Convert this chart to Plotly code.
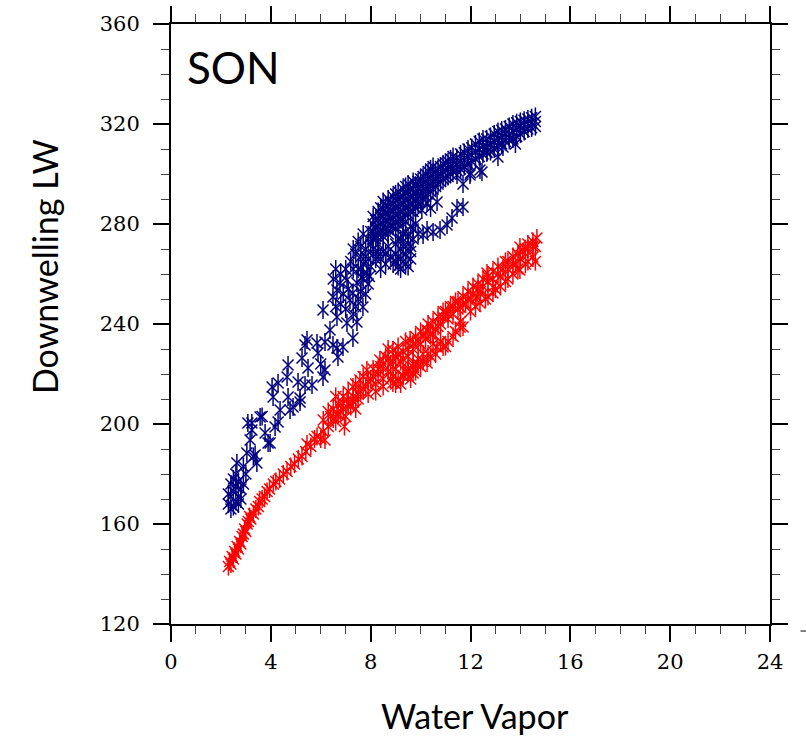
import plotly.graph_objects as go

# Column water vapour vs. downwelling longwave, SON season
# Blue series (navy) -- all-sky
blue_wv = [
    2.3, 2.4, 2.5, 2.6, 2.7, 2.4, 2.5, 2.7, 2.8, 2.3, 2.6, 2.4, 2.8, 2.5, 2.7, 2.9, 2.6, 3.0,
    2.64, 2.9, 3.04, 3.3, 3.44, 3.37, 3.17, 3.24, 3.08, 3.57, 3.65, 3.24, 3.77, 3.97, 3.89,
    4.17, 4.29, 4.37, 4.77, 4.89, 4.69, 5.17, 5.17, 4.05, 4.09, 4.29, 4.65, 4.69, 5.09, 5.37,
    5.65, 5.49, 5.25, 6.09, 6.17, 6.0, 5.45, 5.37, 5.85, 5.89, 6.17, 6.37, 6.49, 6.65, 6.69,
    6.89, 7.29, 6.09, 6.65, 7.05, 7.45, 7.69, 6.49, 6.65, 6.77, 7.05, 7.17, 7.29, 7.45, 7.65,
    7.85, 6.8, 7.0, 7.3, 7.5, 7.6, 6.9, 7.1, 7.4, 6.6, 7.8, 7.9, 7.0, 6.8, 6.6, 6.5, 7.3,
    7.2, 7.4, 7.6, 7.8, 8.0, 8.2, 8.4, 8.6, 8.1, 7.9, 7.7, 7.5, 8.3, 8.5, 8.7, 7.3, 7.6, 8.0,
    8.8, 7.95,
    7.7, 7.9, 8.1, 8.3, 7.8, 8.0, 8.2, 7.6, 8.4, 8.6, 7.5, 7.7, 8.5, 8.7,
    8.1, 8.1, 8.1, 8.1, 8.3, 8.3, 8.3, 8.3, 8.5, 8.5, 8.5, 8.5, 8.5, 8.7, 8.7, 8.7, 8.7, 8.7,
    8.9, 8.9, 8.9, 8.9, 8.9, 9.1, 9.1, 9.1, 9.1, 9.1, 9.3, 9.3, 9.3, 9.3, 9.3, 9.5, 9.5, 9.5,
    9.5, 9.5, 9.7, 9.7, 9.7, 9.7, 9.7, 9.9, 9.9, 9.9, 9.9, 10.1, 10.1, 10.1, 10.1, 10.3, 10.3,
    10.3, 10.3, 10.5, 10.5, 10.5, 10.5, 10.7, 10.7, 10.7, 10.9, 10.9, 10.9, 11.1, 11.1, 11.1,
    11.3, 11.3, 11.3,
    8.2, 8.2, 8.2, 8.4, 8.4, 8.4, 8.4, 8.6, 8.6, 8.6, 8.6, 8.8, 8.8, 8.8, 8.8,
    9.0, 9.0, 9.0, 9.0, 9.0, 9.2, 9.2, 9.2, 9.2, 9.4, 9.4, 9.4, 9.4, 9.4, 9.6, 9.6, 9.6, 9.6,
    9.8, 9.8, 9.8, 9.8, 10.0, 10.0, 10.0, 10.0, 10.2, 10.2, 10.2, 10.2, 10.4, 10.4, 10.4, 10.4,
    10.6, 10.6, 10.6, 10.8, 10.8, 10.8, 11.0, 11.0, 11.0, 11.2, 11.2, 11.2,
    11.6, 11.6, 11.6, 11.9, 11.9, 11.9, 12.2, 12.2, 12.2, 12.5, 12.5, 12.5, 12.8, 12.8, 12.8,
    13.1, 13.1, 13.1, 13.4, 13.4, 13.4, 13.7, 13.7, 13.7, 14.0, 14.0, 14.0, 14.3, 14.3, 14.3,
    14.6, 14.6, 14.6,
    11.45, 11.45, 11.45, 11.75, 11.75, 11.75, 12.05, 12.05, 12.05, 12.35, 12.35, 12.35,
    12.65, 12.65, 12.65, 12.95, 12.95, 12.95, 13.25, 13.25, 13.25, 13.55, 13.55, 13.55,
    13.85, 13.85, 13.85, 14.15, 14.15, 14.15, 14.45, 14.45, 14.45,
    8.9, 9.1, 9.3, 9.5, 9.0, 9.2, 9.4, 9.6, 9.1, 9.3, 9.5, 9.7, 9.0, 9.3, 9.6, 9.2,
    9.0, 9.2, 9.4, 9.6, 9.1, 9.3, 9.5, 9.7, 9.4, 9.2, 9.6, 9.0,
    10.1, 10.26, 10.5, 10.78, 11.06, 11.26, 11.46, 11.7, 9.9, 9.8, 10.05, 10.4, 10.66, 10.26,
    11.98, 12.38, 11.46, 13.1, 13.3, 12.66, 12.0, 12.46, 11.7, 13.8,
]
blue_lw = [
    168, 166, 167, 169, 168, 171, 173, 171, 170, 172, 175, 176, 174, 178, 177, 176, 180, 180,
    184.4, 183, 188.4, 187, 184.4, 187.6, 193.6, 197.6, 200.4, 202.8, 203, 200.4, 196.4, 192.4,
    192.4, 198.8, 200.8, 205.6, 205.6, 206.8, 210.8, 210.4, 208.8, 214.8, 210.8, 216.4, 218.8,
    223.6, 216.8, 215.6, 215.6, 222.4, 226.4, 218.8, 221.6, 224, 233.6, 231.6, 232.4, 228.4,
    232.8, 237.6, 231.6, 230.4, 226.8, 230.8, 234.4, 245.6, 242.8, 240.4, 240.8, 246.8, 250.8,
    253.6, 256.4, 257.6, 249.6, 252.4, 256.4, 258.8, 260.4, 248, 246, 244, 250, 253, 252, 254,
    247, 247, 252, 256, 262, 260, 262, 258, 262,
    265, 268, 271, 267, 263, 266, 262, 264, 270, 274, 276, 273, 272, 269, 271, 270, 262, 277,
    267, 259,
    264, 266, 268, 269, 270, 272, 274, 267, 266, 268, 262, 258, 275, 276,
    274, 277, 280, 283, 276, 279, 282, 285, 277, 280, 283, 286, 289, 278, 281, 284, 287, 290,
    279, 282, 285, 288, 291, 281, 284, 287, 290, 293, 282, 285, 288, 291, 294, 284, 287, 290,
    293, 296, 285, 288, 291, 294, 297, 288, 291, 294, 297, 290, 293, 296, 299, 292, 295,
    298, 301, 294, 297, 300, 303, 296, 299, 302, 298, 301, 304, 299, 302, 305,
    301, 304, 307,
    275.5, 278.5, 281.5, 277.5, 280.5, 283.5, 286.5, 278.5, 281.5, 284.5, 287.5,
    279.5, 282.5, 285.5, 288.5,
    280.5, 283.5, 286.5, 289.5, 292, 282, 285, 288, 291, 283.5, 286.5, 289.5, 292.5, 295,
    285, 288, 291, 294,
    286.5, 289.5, 292.5, 295.5, 289, 292, 295, 298, 291, 294, 297, 300, 293, 296, 299, 302,
    295, 298, 301, 297, 300, 303, 298.5, 301.5, 304.5, 300, 303, 306,
    302, 305, 308, 304, 307, 310, 306, 309, 312, 308, 311, 314, 309, 312, 315,
    311, 314, 317, 313, 316, 318, 314, 317, 320, 316, 319, 321, 318, 320, 322,
    319, 321, 323,
    301.5, 304, 306.5, 303, 305.5, 308.5, 305, 307.5, 310.5, 307, 310, 313,
    308.5, 311, 314, 310, 313, 316, 312, 315, 317.5, 313.5, 316, 319,
    315, 318, 320.5, 317, 319.5, 321.5, 318.5, 320.5, 322.5,
    264, 263, 265, 263, 268, 270, 268, 271, 274, 276, 275, 278, 278, 280, 266, 266,
    272, 274, 277, 279, 267, 271, 272, 274, 264, 262, 269, 265,
    275.6, 277.6, 276.8, 277.6, 279.6, 282.4, 286.4, 286.8, 276, 280, 285.6, 286.4, 288.8, 288.4,
    299.6, 301.6, 299.6, 306.8, 310.8, 308.8, 300.4, 300.8, 296, 312,
]

# Red series -- clear-sky
red_wv = [
    2.3, 2.35, 2.4, 2.45, 2.5, 2.55, 2.6, 2.65, 2.7, 2.75, 2.8, 2.85, 2.9, 2.95, 3.0, 3.05,
    3.1, 3.15, 3.2, 3.3, 3.4, 3.5, 3.55, 3.65, 3.75, 3.85, 3.95, 4.1, 4.2, 4.35, 4.5, 4.65,
    4.8, 4.95, 5.1, 5.25, 5.4, 5.45, 5.6, 5.75, 5.85, 6.0, 6.17, 6.1,
    6.1, 6.3, 6.4, 6.5, 6.6, 6.65, 6.7, 6.8, 6.89, 6.9, 7.0, 7.05, 7.1, 7.2, 7.29, 7.3, 7.4,
    7.5, 7.57, 7.6, 7.7, 7.8, 7.85, 7.9, 8.0, 8.1, 8.2, 6.6, 6.95, 7.4,
    8.3, 8.37, 8.4, 8.5, 8.6, 8.7, 8.7, 8.8, 8.89, 8.9, 9.0, 9.0, 9.1, 9.2, 9.2, 9.3, 9.3,
    9.4, 9.5, 9.5, 9.58, 9.6, 9.7, 9.7, 9.8, 9.9, 10.0, 10.0, 10.1, 10.2, 10.26, 10.3, 10.4,
    10.5, 10.5, 10.6, 10.7, 10.8, 10.9, 11.0, 11.1, 11.2, 11.3, 11.4, 11.5, 11.58, 11.7, 11.8,
    11.9, 12.0, 12.1, 12.26, 12.3, 12.4, 12.5, 12.66, 12.7, 12.9, 12.9, 13.1, 13.2, 13.4,
    13.5, 13.7, 13.8, 13.98, 14.0, 14.2, 14.3, 14.5, 14.66, 14.6,
    8.89, 9.1, 9.3, 9.5, 9.7, 9.7, 9.9, 10.1, 10.26, 10.4, 10.66, 10.9, 11.1, 11.3, 11.58,
    11.7, 12.38, 12.6, 12.9, 13.2, 13.5, 13.7, 13.98, 14.2, 14.5, 14.6,
    6.3, 6.5, 6.7, 6.9, 7.1, 7.3, 7.5, 7.7, 7.9, 8.1, 8.3, 8.5, 8.7, 8.9, 9.1, 9.3, 9.5,
    9.7, 9.9, 10.1, 10.3, 10.5, 10.7, 10.9, 11.1, 11.3, 11.5, 11.7, 11.9, 12.1, 12.3, 12.5,
    12.7, 12.9, 13.1, 13.3, 13.5, 13.7, 13.9, 14.1, 14.3, 14.5,
    8.2, 8.5, 8.8, 9.0, 9.4, 9.8, 10.0, 10.3, 10.6, 10.8, 11.0, 11.4, 11.6, 12.0, 12.2,
    12.7, 13.0, 13.4, 13.9, 14.3,
]
red_lw = [
    143, 145, 144, 147, 146, 149, 148, 151, 150, 153, 152, 155, 156, 158, 157, 160,
    161, 163, 162, 164, 166, 167, 169, 170, 171, 173, 174, 176, 177, 178, 180, 181,
    183, 184, 186, 187, 189, 192, 191, 194, 195, 194, 193.6, 197,
    201.6, 199, 203, 206, 201, 204.4, 208, 205, 208.4, 211, 203, 209.6, 213, 207, 214.8, 211,
    216, 210, 217.6, 213, 219, 215, 221.6, 212, 218, 222, 216, 211, 199, 206,
    220, 225.6, 223, 218, 227, 221, 230, 224, 229.6, 219, 227, 222, 231, 216, 225, 229, 219,
    233, 222, 227, 233.6, 218, 230, 224, 235, 226, 232, 237, 228, 234, 237.6, 240, 236,
    232, 241, 238, 243, 240, 242.8, 245, 242, 247, 244, 249, 246, 246.8, 251, 248,
    253, 250, 255, 250.8, 256, 253, 258, 260.4, 257, 254.8, 261, 263, 259, 265,
    262, 267, 264, 270.8, 266, 270, 272, 273, 274.4, 271,
    216.4, 218, 219.5, 221, 220.4, 222.8, 224, 225, 224.4, 227, 230.8, 230.8, 233, 235, 238.8,
    238.8, 248.4, 250, 252.4, 255, 258, 260, 261.6, 264, 266.8, 265,
    205, 202, 204, 206, 208, 209, 212, 214, 217, 219, 222, 224, 226, 225, 228, 226, 230,
    232, 233, 236, 237, 236, 239, 245, 244, 247, 249, 248, 250, 252, 254, 255,
    259, 258, 260, 262, 265, 264, 268, 269, 270, 271,
    213, 215, 218, 216, 221, 221, 223, 228, 228, 233, 231, 237, 241, 245, 247,
    251, 254, 257, 262, 265,
]

series = [
    (blue_wv, blue_lw, "#000080"),
    (red_wv, red_lw, "#ff0000"),
]

fig = go.Figure()
# Each asterisk is a vertical stroke overlaid with a thin cross
for xs, ys, color in series:
    for sym, size in (("line-ns-open", 13), ("x-thin-open", 11)):
        fig.add_trace(go.Scatter(
            x=xs, y=ys, mode="markers",
            marker=dict(symbol=sym, size=size, color=color,
                        line=dict(color=color, width=1.5)),
            showlegend=False, hoverinfo="skip",
        ))

tick_font = dict(family="DejaVu Serif, Liberation Serif, serif", size=21, color="black")
title_font = "Lato, Open Sans, sans-serif"

axis_common = dict(
    showline=True, linecolor="black", linewidth=2, mirror="allticks",
    ticks="outside", ticklen=16, tickwidth=2, tickcolor="black",
    showgrid=False, zeroline=False, tickfont=tick_font, automargin=False,
)

fig.update_xaxes(
    range=[0, 24], tickmode="linear", tick0=0, dtick=4,
    minor=dict(ticks="outside", ticklen=8, tickwidth=1.3, tickcolor="#444",
               dtick=1, tick0=0, showgrid=False),
    ticklabelstandoff=2, **axis_common,
)
fig.update_yaxes(
    range=[120, 360], tickmode="linear", tick0=120, dtick=40,
    minor=dict(ticks="outside", ticklen=8, tickwidth=1.3, tickcolor="#444",
               dtick=10, tick0=120, showgrid=False),
    ticklabelstandoff=9, **axis_common,
)

fig.update_layout(
    width=806, height=739,
    margin=dict(l=171, r=36, t=24, b=115, autoexpand=False),
    paper_bgcolor="white", plot_bgcolor="white",
    annotations=[
        dict(text="SON", x=0.0234, y=0.928, xref="paper", yref="paper",
             xanchor="left", yanchor="middle", showarrow=False,
             font=dict(family=title_font, size=44, color="black")),
        dict(text="Downwelling LW", x=-0.212, y=0.595, xref="paper", yref="paper",
             xanchor="center", yanchor="middle", textangle=-90, showarrow=False,
             font=dict(family=title_font, size=34, color="black")),
        dict(text="Water Vapor", x=0.5075, y=-0.153, xref="paper", yref="paper",
             xanchor="center", yanchor="middle", showarrow=False,
             font=dict(family=title_font, size=34, color="black")),
    ],
    shapes=[
        dict(type="line", xref="paper", yref="paper",
             x0=1.051, x1=1.06, y0=-0.0117, y1=-0.0117,
             line=dict(color="black", width=1)),
    ],
)

fig.write_html("out.html")
